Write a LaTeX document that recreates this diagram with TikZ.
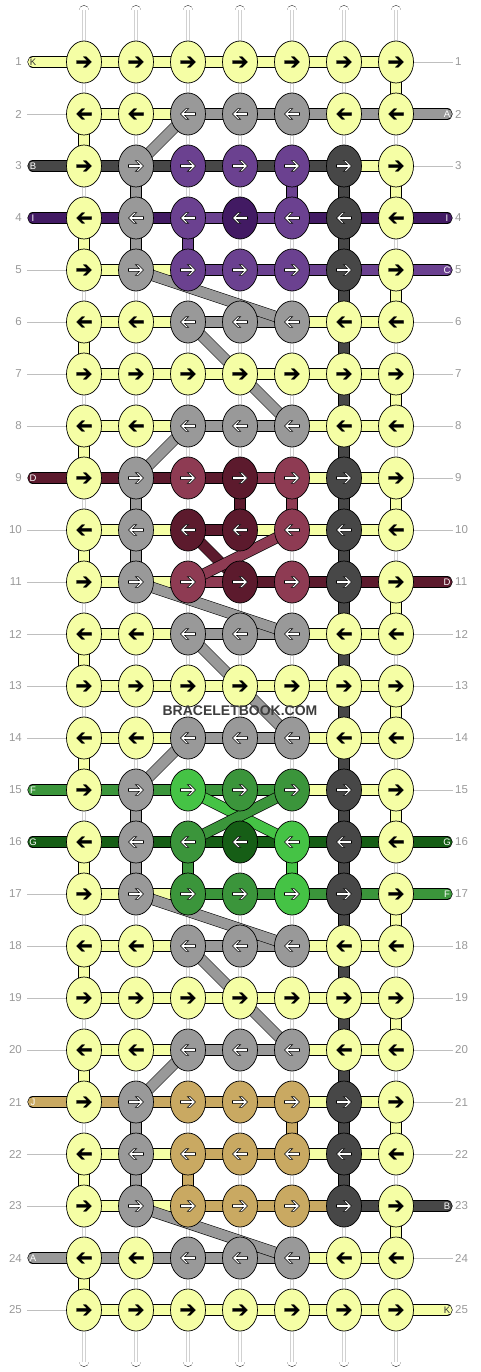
\documentclass[tikz,border=0pt]{standalone}
\usepackage{fontspec}
\setmainfont{Liberation Sans}
\usetikzlibrary{shapes.geometric}

\definecolor{cA}{HTML}{999999}
\definecolor{cB}{HTML}{474747}
\definecolor{cC}{HTML}{6B4190}
\definecolor{cD}{HTML}{5C1A2D}
\definecolor{cE}{HTML}{8E3B53}
\definecolor{cF}{HTML}{3B953B}
\definecolor{cG}{HTML}{165E16}
\definecolor{cH}{HTML}{45C345}
\definecolor{cI}{HTML}{421A63}
\definecolor{cJ}{HTML}{C9A962}
\definecolor{cK}{HTML}{F5FEA5}

\pgfdeclarelayer{bg}
\pgfsetlayers{bg,main}

\tikzset{
  knot/.style={ellipse, draw=black, line width=0.7pt, fill=c#1, minimum width=35pt, minimum height=42pt, inner sep=0pt},
  strand/.style={draw=black, line width=0.6pt, double=c#1, double distance=10pt},
  rod/.style={draw=black!85, line width=0.6pt, double=white, double distance=9.5pt, line cap=round},
  rodcore/.style={draw=black!18, line width=0.6pt, double=white, double distance=2.8pt},
  guide/.style={draw=black!25, line width=0.6pt},
  arrowdark/.style={fill=black, draw=black, line width=0.3pt, line join=miter},
  arrowlight/.style={fill=white, draw=black, line width=0.6pt, line join=miter},
  rownum/.style={text=black!40, font=\fontsize{11.5}{12}\selectfont, inner sep=0pt},
  endtag/.style={font=\fontsize{9.5}{10}\selectfont, inner sep=0pt},
  stamp/.style={text=black!76, font=\fontsize{14}{15}\selectfont\bfseries, inner sep=0pt}
}

\newcommand\arrowshape{(-7.5,-1.4) -- (3.3,-1.4) -- (-0.6,-5.3) -- (2.2,-5.3) -- (7.5,0) -- (2.2,5.3) -- (-0.6,5.3) -- (3.3,1.4) -- (-7.5,1.4) -- cycle}

\newcommand\knotrows{1/{K,K,K,K,K,K,K}/{K,K,K,K,K,K,K,-}/{W,W,W,W,W,W,K},
2/{K,K,A,A,A,K,K}/{-,K,K,A,A,A,A,A}/{K,W,W,W,W,W,W},
3/{K,A,C,C,C,B,K}/{B,B,B,B,B,B,K,-}/{W,A,W,W,C,B,K},
4/{K,A,C,I,C,B,K}/{I,I,I,C,C,I,I,I}/{K,A,C,W,W,B,W},
5/{K,A,C,C,C,B,K}/{-,K,K,C,C,C,C,C}/{W,W,W,W,W,B,K},
6/{K,K,A,A,A,K,K}/{-,K,K,A,A,K,K,-}/{K,W,W,W,W,B,W},
7/{K,K,K,K,K,K,K}/{-,K,K,K,K,K,K,-}/{W,W,W,W,W,B,K},
8/{K,K,A,A,A,K,K}/{-,K,K,A,A,K,K,-}/{K,W,W,W,W,B,W},
9/{K,A,E,D,E,B,K}/{D,D,D,D,E,K,K,-}/{W,A,W,D,E,B,K},
10/{K,A,D,D,E,B,K}/{-,K,K,D,K,K,K,-}/{K,A,W,W,W,B,W},
11/{K,A,E,D,E,B,K}/{-,K,K,E,D,D,D,D}/{W,W,W,W,W,B,K},
12/{K,K,A,A,A,K,K}/{-,K,K,A,A,K,K,-}/{K,W,W,W,W,B,W},
13/{K,K,K,K,K,K,K}/{-,K,K,K,K,K,K,-}/{W,W,W,W,W,B,K},
14/{K,K,A,A,A,K,K}/{-,K,K,A,A,K,K,-}/{K,W,W,W,W,B,W},
15/{K,A,H,F,F,B,K}/{F,F,F,F,F,K,K,-}/{W,A,W,W,W,B,K},
16/{K,A,F,G,H,B,K}/{G,G,G,G,G,G,G,G}/{K,A,F,W,H,B,W},
17/{K,A,F,F,H,B,K}/{-,K,K,F,F,F,F,F}/{W,W,W,W,W,B,K},
18/{K,K,A,A,A,K,K}/{-,K,K,A,A,K,K,-}/{K,W,W,W,W,B,W},
19/{K,K,K,K,K,K,K}/{-,K,K,K,K,K,K,-}/{W,W,W,W,W,B,K},
20/{K,K,A,A,A,K,K}/{-,K,K,A,A,K,K,-}/{K,W,W,W,W,B,W},
21/{K,A,J,J,J,B,K}/{J,J,J,J,J,K,K,-}/{W,A,W,W,J,B,K},
22/{K,A,J,J,J,B,K}/{-,K,K,J,J,K,K,-}/{K,A,J,W,W,B,W},
23/{K,A,J,J,J,B,K}/{-,K,K,J,J,J,B,B}/{W,W,W,W,W,W,K},
24/{K,K,A,A,A,K,K}/{A,A,A,A,A,K,K,-}/{K,W,W,W,W,W,W},
25/{K,K,K,K,K,K,K}/{-,K,K,K,K,K,K,K}/{W,W,W,W,W,W,W}}

\begin{document}
\begin{tikzpicture}[x=1pt,y=-1pt]
\useasboundingbox (0,0) rectangle (480,1372);

\foreach \r/\ks/\hs/\vs in \knotrows {
  \pgfmathsetmacro\yy{62+52*(\r-1)}
  \ifodd\r\def\sg{1}\else\def\sg{-1}\fi
  \node[rownum, anchor=east] (nl-\r) at (22,\yy) {\r};
  \node[rownum, anchor=west] (nr-\r) at (455,\yy) {\r};
  \foreach \col [count=\j] in \ks {
    \node[knot=\col] (k-\r-\j) at ({84+52*(\j-1)},\yy) {};
    \if\col K
      \draw[arrowdark, shift={(k-\r-\j.center)}, xscale=\sg] \arrowshape;
    \else
      \draw[arrowlight, shift={(k-\r-\j.center)}, xscale=\sg] \arrowshape;
    \fi
  }
  \foreach \h [count=\i] in \hs {
    \def\tagcol{white}\if\h K\def\tagcol{black!80}\fi
    \ifnum\i=1
      \if\h-\else\node[endtag, text=\tagcol] (tl-\r) at (33,\yy) {\h};\fi
    \fi
    \ifnum\i=8
      \if\h-\else\node[endtag, text=\tagcol] (tr-\r) at (447,\yy) {\h};\fi
    \fi
  }
}

\node[stamp] (mark) at (240,711) {BRACELETBOOK.COM};

\begin{pgfonlayer}{bg}
\foreach \j in {1,...,7} {
  \coordinate (rt-\j) at ({84+52*(\j-1)},10.5);
  \coordinate (rb-\j) at ({84+52*(\j-1)},1361.5);
  \draw[rod] (rt-\j) -- (rb-\j);
  \draw[rodcore] (rt-\j) -- (rb-\j);
}
\foreach \r/\ks/\hs/\vs in \knotrows {
  \pgfmathtruncatemacro\rn{\r+1}
  \foreach \v [count=\j] in \vs {
    \if\v W\else\draw[strand=\v] (k-\r-\j.center) -- (k-\rn-\j.center);\fi
  }
}
\foreach \r/\ks/\hs/\vs in \knotrows {
  \foreach \h [count=\i] in \hs {
    \pgfmathtruncatemacro\im{\i-1}
    \ifnum\i=1
      \if\h-\draw[guide] ([xshift=5pt]nl-\r.east) -- (k-\r-1);
      \else\draw[strand=\h, line cap=round] (tl-\r.center) -- (k-\r-1.center);\fi
    \else\ifnum\i=8
      \if\h-\draw[guide] (k-\r-7) -- ([xshift=-2pt]nr-\r.west);
      \else\draw[strand=\h, line cap=round] (tr-\r.center) -- (k-\r-7.center);\fi
    \else
      \draw[strand=\h] (k-\r-\im.center) -- (k-\r-\i.center);
    \fi\fi
  }
}
\foreach \cl/\ra/\ca/\rb/\cb in {A/2/3/3/2, A/5/2/6/5, A/6/3/8/5, A/8/3/9/2, A/11/2/12/5, A/12/3/14/5, A/14/3/15/2, A/17/2/18/5, A/18/3/20/5, A/20/3/21/2, A/23/2/24/5, D/10/3/11/4, E/10/5/11/3, H/15/3/16/5, F/15/5/16/3}
  \draw[strand=\cl] (k-\ra-\ca.center) -- (k-\rb-\cb.center);
\end{pgfonlayer}
\end{tikzpicture}
\end{document}
